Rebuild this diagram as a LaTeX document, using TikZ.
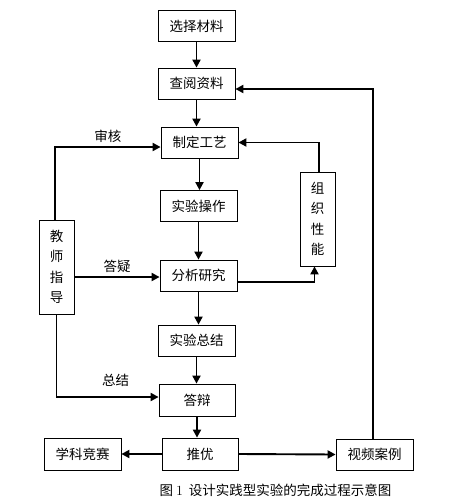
\documentclass[tikz,border=0pt]{standalone}
\usepackage{fontspec}
\newfontfamily\cjk{Noto Sans CJK SC}
\usetikzlibrary{arrows.meta}

\begin{document}
\begin{tikzpicture}[x=1pt,y=-1pt,
	box/.style={draw, line width=0.8pt, minimum width=77pt, minimum height=31pt, inner sep=0pt, font=\cjk\fontsize{13.5}{20.5}\selectfont},
	tallbox/.style={box, minimum width=35pt, minimum height=94pt, align=center},
	arr/.style={line width=1.9pt, -{Triangle[length=8pt,width=8pt]}},
	lab/.style={font=\cjk\fontsize{13.5}{16}\selectfont, inner sep=2pt}]
	\def\W{456}
	\def\H{501}
	\useasboundingbox (0,0) rectangle (\W,\H);

	%主流程
	\node [box] (sel) at (196.5,26) {选择材料};
	\node [box] (chk) at (196.5,83.5) {查阅资料};
	\node [box] (zd) at (199.5,142.5) {制定工艺};
	\node [box] (sy) at (198.5,206) {实验操作};
	\node [box] (fx) at (198.5,275.5) {分析研究};
	\node [box] (zj) at (196.5,340.5) {实验总结};
	\node [box, minimum width=76pt, minimum height=32pt] (db) at (197,400) {答辩};
	\node [box, minimum width=76pt, minimum height=32pt] (ty) at (200,454) {推优};
	\node [box, minimum height=32pt] (xk) at (82.5,454) {学科竞赛};
	\node [box] (sp) at (374.5,454.5) {视频案例};

	%竖排方框
	\node [tallbox] (zz) at (317.5,219) {组\\织\\性\\能};
	\node [tallbox] (js) at (56.5,267) {教\\师\\指\\导};

	\foreach \a/\b in {sel/chk, chk/zd, zd/sy, sy/fx, fx/zj, zj/db, db/ty}
		\draw [arr] (\a.south) -- (\a.south |- \b.north);

	%反馈
	\draw [arr] ([yshift=-6.5pt]fx.east) -| ([xshift=-3pt]zz.south);
	\draw [arr] ([xshift=1.5pt]zz.north) |- (zd.east);
	\draw [arr] ([xshift=-1.5pt]sp.north) |- ([yshift=-5.5pt]chk.east);

	%教师指导
	\draw [arr] ([xshift=-1.5pt]js.north) |- ([yshift=-4.5pt]zd.west) node [lab, pos=0.75, above=1pt] {审核};
	\draw [arr] ([yshift=-10pt]js.east) -- ([yshift=-1.5pt]fx.west) node [lab, midway, above=1pt] {答疑};
	\draw [arr] (js.south) |- ([yshift=3pt]db.west) node [lab, pos=0.79, above=7pt] {总结};

	%推优
	\draw [arr] (ty.west) -- (xk.east);
	\draw [arr] (ty.east) -- (sp.west);

	\node [font=\cjk\fontsize{13.5}{16}\selectfont] (cap) at (275.5,490) {图 {\rmfamily\fontsize{14}{16}\selectfont 1}\ \ 设计实践型实验的完成过程示意图};
\end{tikzpicture}
\end{document}
